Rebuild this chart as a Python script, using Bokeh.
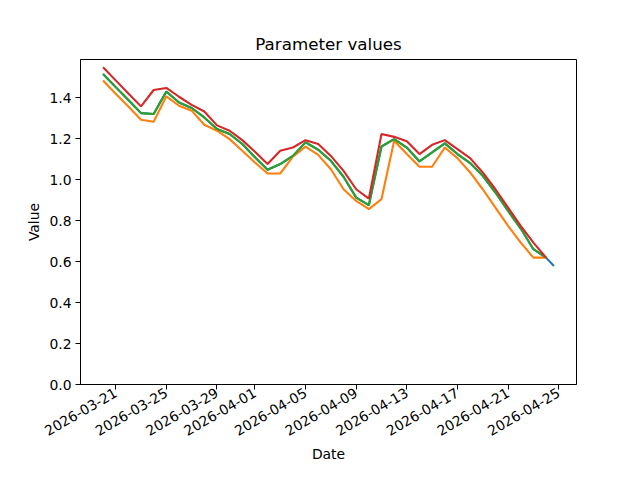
import math
import pandas as pd
from bokeh.plotting import figure
from bokeh.models import FixedTicker, DatetimeTickFormatter, Range1d, NumeralTickFormatter
from bokeh.embed import file_html
from bokeh.resources import INLINE

dates = list(pd.date_range("2026-03-20", "2026-04-24", freq="D"))
blue_dates = dates + [pd.Timestamp("2026-04-24 15:00")]

red = [1.550, 1.486, 1.422, 1.359, 1.439, 1.449, 1.406, 1.366, 1.334, 1.266,
       1.240, 1.194, 1.137, 1.077, 1.142, 1.158, 1.194, 1.175, 1.117, 1.044,
       0.954, 0.908, 1.224, 1.210, 1.188, 1.126, 1.171, 1.194, 1.150, 1.106,
       1.036, 0.954, 0.864, 0.775, 0.693, 0.620]
green = [1.517, 1.453, 1.390, 1.326, 1.322, 1.432, 1.378, 1.351, 1.305, 1.248,
         1.224, 1.175, 1.110, 1.049, 1.077, 1.117, 1.183, 1.147, 1.093, 1.015,
         0.913, 0.876, 1.163, 1.199, 1.158, 1.090, 1.134, 1.178, 1.126, 1.082,
         1.020, 0.938, 0.848, 0.762, 0.661, 0.620]
orange = [1.485, 1.421, 1.358, 1.294, 1.284, 1.408, 1.362, 1.338, 1.269, 1.240,
          1.199, 1.142, 1.085, 1.031, 1.031, 1.113, 1.162, 1.122, 1.052, 0.954,
          0.897, 0.857, 0.906, 1.191, 1.126, 1.064, 1.064, 1.158, 1.106, 1.036,
          0.954, 0.864, 0.775, 0.693, 0.620, 0.620]
blue = green + [0.579]

tick_dates = ["2026-03-21", "2026-03-25", "2026-03-29", "2026-04-01", "2026-04-05",
              "2026-04-09", "2026-04-13", "2026-04-17", "2026-04-21", "2026-04-25"]
y_ticks = [0.0, 0.2, 0.4, 0.6, 0.8, 1.0, 1.2, 1.4]

FONT = "DejaVu Sans"

span = blue_dates[-1] - blue_dates[0]
x_start = blue_dates[0] - span * 0.05
x_end = blue_dates[-1] + span * 0.05

p = figure(width=624, height=464, x_axis_type="datetime",
           output_backend="svg", toolbar_location=None,
           x_range=Range1d(x_start, x_end), y_range=Range1d(0, 1.588),
           min_border_left=80, min_border_right=48, min_border_top=59, min_border_bottom=80)

p.title.text = "Parameter values"
p.title.align = "center"
p.title.text_font = FONT
p.title.text_font_size = "16.7px"
p.title.text_font_style = "normal"
p.title.text_color = "black"
p.title.standoff = 12

p.line(blue_dates, blue, color="#1f77b4", line_width=2.1)
p.line(dates, orange, color="#ff7f0e", line_width=2.1)
p.line(dates, green, color="#2ca02c", line_width=2.1)
p.line(dates, red, color="#d62728", line_width=2.1)

p.xgrid.visible = False
p.ygrid.visible = False
p.outline_line_color = "black"
p.outline_line_width = 1
p.outline_line_alpha = 1

tick_ms = [pd.Timestamp(d).value // 10**6 for d in tick_dates]
p.xaxis.ticker = FixedTicker(ticks=tick_ms)
p.xaxis.formatter = DatetimeTickFormatter(days="%Y-%m-%d", months="%Y-%m-%d",
                                          hours="%Y-%m-%d", years="%Y-%m-%d")
p.xaxis.major_label_orientation = math.pi / 6
p.yaxis.ticker = FixedTicker(ticks=y_ticks)
p.yaxis.formatter = NumeralTickFormatter(format="0.0")

for ax in (p.xaxis[0], p.yaxis[0]):
    ax.major_tick_in = 0
    ax.major_tick_out = 5
    ax.minor_tick_in = 0
    ax.minor_tick_out = 0
    ax.axis_line_color = "black"
    ax.major_tick_line_color = "black"
    ax.major_label_text_font = FONT
    ax.major_label_text_font_size = "13.9px"
    ax.major_label_text_color = "black"
    ax.axis_label_text_font = FONT
    ax.axis_label_text_font_size = "13.9px"
    ax.axis_label_text_font_style = "normal"
    ax.axis_label_text_color = "black"

p.xaxis.axis_label = "Date"
p.yaxis.axis_label = "Value"
p.xaxis.major_label_standoff = 2
p.yaxis.major_label_standoff = 4
p.xaxis.axis_label_standoff = 2
p.yaxis.axis_label_standoff = 4

open("out.html", "w").write(file_html(p, INLINE))
